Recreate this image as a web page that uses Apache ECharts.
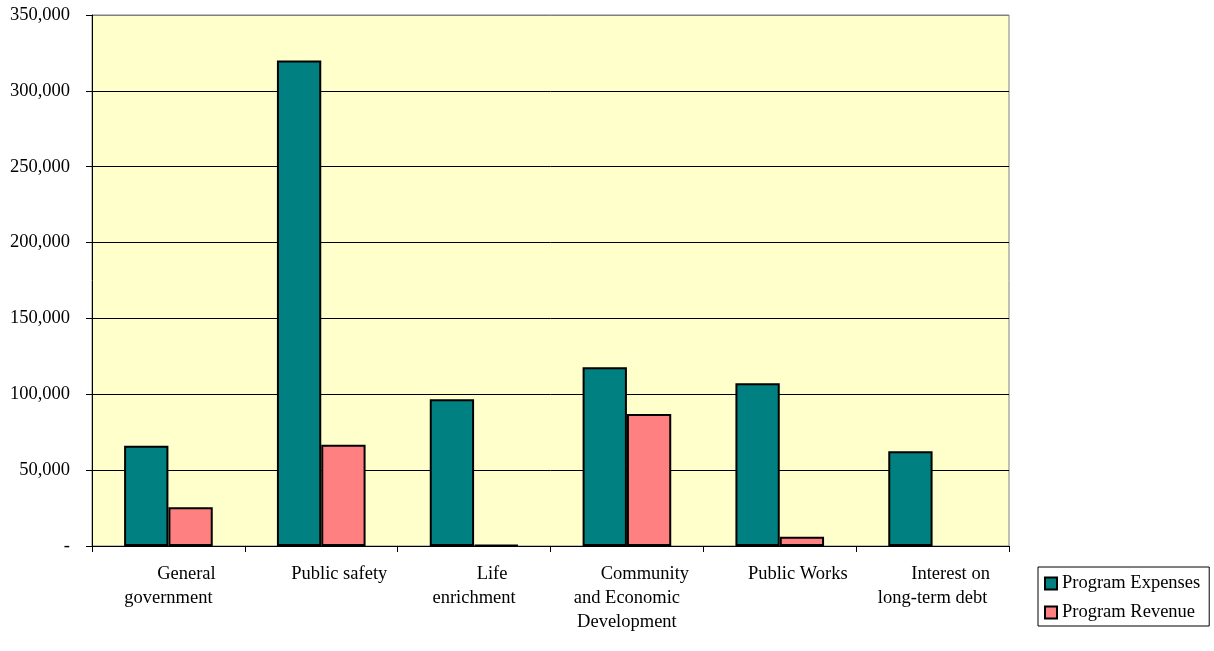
<!DOCTYPE html>
<html>
<head>
<meta charset="utf-8">
<script src="https://cdn.jsdelivr.net/npm/echarts@6/dist/echarts.min.js"></script>
<style>
  html, body { margin: 0; padding: 0; background: #fff; }
  #chart { width: 1214px; height: 651px; }
</style>
</head>
<body>
<div id="chart"></div>
<script>
var categories = ['General\ngovernment', 'Public safety', 'Life\nenrichment',
  'Community\nand Economic\nDevelopment', 'Public Works', 'Interest on\nlong-term debt'];
var expenses = [66000, 320000, 96800, 117800, 107300, 62400];
var revenue = [25500, 66800, 600, 87000, 6100, 0];
var seriesNames = ['Program Expenses', 'Program Revenue'];

var font = 'Liberation Serif';

function fmtNum(v) {
  if (v == 0) return '-';
  return String(v).replace(/\B(?=(\d{3})+(?!\d))/g, ',');
}

// zero values are not drawn in the original (no flat bar outline)
function hideZero(arr) {
  return arr.map(function (v) { return v === 0 ? null : v; });
}

var myChart = echarts.init(document.getElementById('chart'));

var option = {
  backgroundColor: '#ffffff',
  animation: false,
  textStyle: { fontFamily: font, color: '#000' },
  grid: {
    left: 92, right: 205, top: 15, bottom: 105,
    show: true, backgroundColor: '#FFFFCC', borderColor: '#808080', borderWidth: 1
  },
  legend: {
    orient: 'vertical',
    left: 1038, top: 567,
    padding: [7, 9, 4, 6],
    itemGap: 10,
    itemWidth: 12, itemHeight: 12,
    borderColor: '#000', borderWidth: 1,
    backgroundColor: '#fff',
    icon: 'rect',
    textStyle: { fontFamily: font, fontSize: 18.5, color: '#000', padding: [0, 0, 0, 0] },
    data: seriesNames
  },
  xAxis: {
    type: 'category',
    data: categories,
    axisLine: { lineStyle: { color: '#000', width: 1 } },
    axisTick: { show: true, length: 6, lineStyle: { color: '#000' } },
    axisLabel: {
      interval: 0,
      margin: 16,
      fontFamily: font, fontSize: 18.5, color: '#000',
      lineHeight: 24,
      formatter: function (v) {
        var parts = v.split('\n');
        var out = '{a|' + parts[0] + '}';
        for (var i = 1; i < parts.length; i++) out += '\n{b|' + parts[i] + '}';
        return out;
      },
      rich: {
        a: { fontFamily: font, fontSize: 18.5, lineHeight: 24, padding: [0, 0, 0, 36] },
        b: { fontFamily: font, fontSize: 18.5, lineHeight: 24 }
      }
    }
  },
  yAxis: {
    type: 'value',
    min: 0, max: 350000, interval: 50000,
    axisLine: { show: true, lineStyle: { color: '#000' } },
    axisTick: { show: true, length: 6, lineStyle: { color: '#000' } },
    splitLine: {
      show: true,
      lineStyle: { color: ['#000', '#000', '#000', '#000', '#000', '#000', '#000', '#808080'], width: 1 }
    },
    axisLabel: {
      margin: 22,
      fontFamily: font, fontSize: 18.5, color: '#000',
      formatter: fmtNum
    }
  },
  series: [
    {
      name: seriesNames[0], type: 'bar', data: hideZero(expenses),
      barGap: '0%', barCategoryGap: '42%',
      itemStyle: { color: '#008080', borderColor: '#000', borderWidth: 2 }
    },
    {
      name: seriesNames[1], type: 'bar', data: hideZero(revenue),
      itemStyle: { color: '#FF8080', borderColor: '#000', borderWidth: 2 }
    }
  ]
};

myChart.setOption(option);
</script>
</body>
</html>
